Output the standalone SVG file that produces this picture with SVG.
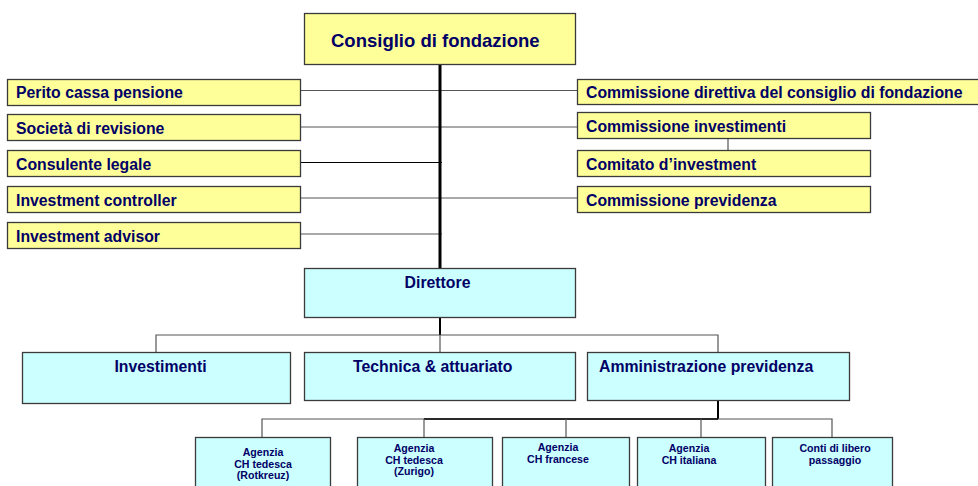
<svg xmlns="http://www.w3.org/2000/svg" width="978" height="486" viewBox="0 0 978 486">
<style>
.y{fill:#FFFF99;stroke:#3a3a3a;stroke-width:1.3}
.c{fill:#CCFFFF;stroke:#3a3a3a;stroke-width:1.3}
text{font-family:"Liberation Sans",Arial,sans-serif;font-weight:bold;fill:#000066}
.l{font-size:15.8px}
.big{font-size:18.5px}
.s{font-size:10.6px;text-anchor:middle}
.m{text-anchor:middle}
.g{stroke:#555;stroke-width:1.2;fill:none}
.k{stroke:#000;stroke-width:2;fill:none}
</style>
<rect width="978" height="486" fill="#fff"/>
<g id="connectors">
<line class="g" x1="300" y1="90.5" x2="577" y2="90.5"/>
<line class="g" x1="300" y1="127" x2="577" y2="127"/>
<line x1="300" y1="162.5" x2="442" y2="162.5" stroke="#000" stroke-width="1"/>
<line class="g" x1="300" y1="198" x2="577" y2="198"/>
<line class="g" x1="300" y1="234" x2="442" y2="234"/>
<line class="g" x1="728" y1="138" x2="728" y2="150"/>
<line x1="440" y1="64" x2="440" y2="268" stroke="#000" stroke-width="3"/>
<line class="k" x1="440" y1="317" x2="440" y2="335"/>
<polyline class="g" points="156,352 156,335 718,335 718,352"/>
<line class="g" x1="440" y1="335" x2="440" y2="352"/>
<line class="k" x1="718" y1="401" x2="718" y2="419"/>
<polyline class="g" points="262,437 262,419 832,419 832,437"/>
<line class="k" x1="424" y1="419" x2="718" y2="419" style="stroke-width:1.6"/>
<line class="g" x1="424" y1="419" x2="424" y2="437"/>
<line class="g" x1="566" y1="419" x2="566" y2="437"/>
<line class="g" x1="701" y1="419" x2="701" y2="437"/>
</g>
<g id="consiglio"><rect class="y" x="304.5" y="13.5" width="271" height="51"/><text class="big" x="331" y="47">Consiglio di fondazione</text></g>
<g id="perito"><rect class="y" x="7.5" y="79.5" width="293" height="26"/><text class="l" x="16" y="98">Perito cassa pensione</text></g>
<g id="societa"><rect class="y" x="7.5" y="114.5" width="293" height="26"/><text class="l" x="16" y="134">Società di revisione</text></g>
<g id="consulente"><rect class="y" x="7.5" y="150.5" width="293" height="26"/><text class="l" x="16" y="170">Consulente legale</text></g>
<g id="controller"><rect class="y" x="7.5" y="186.5" width="293" height="26"/><text class="l" x="16" y="206">Investment controller</text></g>
<g id="advisor"><rect class="y" x="7.5" y="222.5" width="293" height="26"/><text class="l" x="16" y="242">Investment advisor</text></g>
<g id="direttiva"><rect class="y" x="577.5" y="79.5" width="420" height="25"/><text class="l" x="586" y="98">Commissione direttiva del consiglio di fondazione</text></g>
<g id="investimenti-comm"><rect class="y" x="577.5" y="112.5" width="293" height="26"/><text class="l" x="586" y="132">Commissione investimenti</text></g>
<g id="comitato"><rect class="y" x="577.5" y="150.5" width="293" height="26"/><text class="l" x="586" y="170">Comitato d’investment</text></g>
<g id="previdenza-comm"><rect class="y" x="577.5" y="186.5" width="293" height="26"/><text class="l" x="586" y="206">Commissione previdenza</text></g>
<g id="direttore"><rect class="c" x="304.5" y="268.5" width="271" height="49"/><text class="l m" x="437.5" y="288">Direttore</text></g>
<g id="investimenti"><rect class="c" x="22.5" y="352.5" width="268" height="51"/><text class="l m" x="160.5" y="372">Investimenti</text></g>
<g id="technica"><rect class="c" x="304.5" y="352.5" width="271" height="48"/><text class="l" x="353" y="372">Technica &amp; attuariato</text></g>
<g id="amministrazione"><rect class="c" x="587.5" y="352.5" width="262" height="48"/><text class="l" x="599" y="372">Amministrazione previdenza</text></g>
<g id="rotkreuz"><rect class="c" x="195.5" y="437.5" width="135" height="70"/><text class="s" x="263" y="456">Agenzia</text><text class="s" x="263" y="467.5">CH tedesca</text><text class="s" x="263" y="479">(Rotkreuz)</text></g>
<g id="zurigo"><rect class="c" x="357.5" y="437.5" width="135" height="70"/><text class="s" x="414" y="452">Agenzia</text><text class="s" x="414" y="463.5">CH tedesca</text><text class="s" x="414" y="475">(Zurigo)</text></g>
<g id="francese"><rect class="c" x="502.5" y="437.5" width="127" height="70"/><text class="s" x="558" y="451">Agenzia</text><text class="s" x="558" y="462.5">CH francese</text></g>
<g id="italiana"><rect class="c" x="637.5" y="437.5" width="128" height="70"/><text class="s" x="689" y="452">Agenzia</text><text class="s" x="689" y="463.5">CH italiana</text></g>
<g id="libero"><rect class="c" x="772.5" y="437.5" width="120" height="70"/><text class="s" x="835" y="452">Conti di libero</text><text class="s" x="835" y="463.5">passaggio</text></g>
</svg>
